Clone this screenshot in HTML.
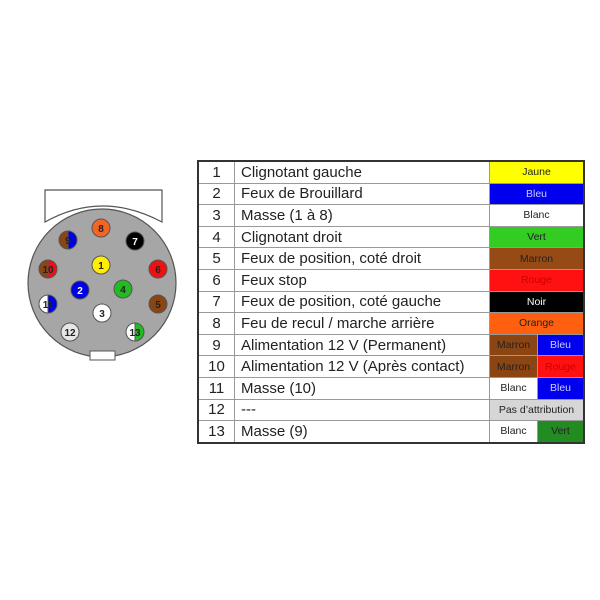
<!DOCTYPE html>
<html><head><meta charset="utf-8"><style>
body{margin:0;width:600px;height:600px;background:#fff;overflow:hidden;font-family:"Liberation Sans",sans-serif;}
table{position:absolute;left:197px;top:160px;border-collapse:collapse;width:388px;border:2px solid #333;}
td{border:1px solid #999;height:20.6px;padding:0;font-size:15px;color:#222;white-space:nowrap;}
td.n{width:35px;text-align:center;}
td.t{padding-left:6px;width:248px;}
td.c{font-size:10.5px;text-align:center;}
</style></head><body>
<svg width="200" height="380" style="position:absolute;left:0;top:0">
<path d="M45 190 H162 V222 Q102 190 45 222 Z" fill="#fff" stroke="#555" stroke-width="1.2"/>
<circle cx="102" cy="283" r="74" fill="#a6a6a6" stroke="#555" stroke-width="1.2"/>
<rect x="90" y="351" width="25" height="9" fill="#fff" stroke="#555"/>
<defs>
<clipPath id="l"><rect x="0" y="0" width="0" height="0"/></clipPath>
</defs>
<g stroke="#555" stroke-width="1" font-family="Liberation Sans" font-size="10" font-weight="bold" text-anchor="middle">
<circle cx="101" cy="228" r="9" fill="#f26522"/><text x="101" y="232" stroke="none" fill="#222">8</text>
<path d="M68 231 A9 9 0 0 0 68 249 Z" fill="#8b4513"/><path d="M68 231 A9 9 0 0 1 68 249 Z" fill="#0000e0"/><text x="68" y="244" stroke="none" fill="#222">9</text>
<circle cx="135" cy="241" r="9" fill="#000"/><text x="135" y="245" stroke="none" fill="#fff">7</text>
<circle cx="101" cy="265" r="9" fill="#ffee00"/><text x="101" y="269" stroke="none" fill="#222">1</text>
<path d="M48 260 A9 9 0 0 0 48 278 Z" fill="#8b4513"/><path d="M48 260 A9 9 0 0 1 48 278 Z" fill="#ee1111"/><text x="48" y="273" stroke="none" fill="#222">10</text>
<circle cx="158" cy="269" r="9" fill="#ee1111"/><text x="158" y="273" stroke="none" fill="#222">6</text>
<circle cx="80" cy="290" r="9" fill="#0000e0"/><text x="80" y="294" stroke="none" fill="#fff">2</text>
<circle cx="123" cy="289" r="9" fill="#22bb22"/><text x="123" y="293" stroke="none" fill="#222">4</text>
<path d="M48 295 A9 9 0 0 0 48 313 Z" fill="#fff"/><path d="M48 295 A9 9 0 0 1 48 313 Z" fill="#0000e0"/><text x="48" y="308" stroke="none" fill="#222">11</text>
<circle cx="158" cy="304" r="9" fill="#8b4513"/><text x="158" y="308" stroke="none" fill="#222">5</text>
<circle cx="102" cy="313" r="9" fill="#fff"/><text x="102" y="317" stroke="none" fill="#222">3</text>
<circle cx="70" cy="332" r="9" fill="#e6e6e6"/><text x="70" y="336" stroke="none" fill="#222">12</text>
<path d="M135 323 A9 9 0 0 0 135 341 Z" fill="#fff"/><path d="M135 323 A9 9 0 0 1 135 341 Z" fill="#22bb22"/><text x="135" y="336" stroke="none" fill="#222">13</text>
</g></svg>
<table>
<tr><td class="n">1</td><td class="t">Clignotant gauche</td><td class="c" colspan="2" style="background:#ffff00">Jaune</td></tr>
<tr><td class="n">2</td><td class="t">Feux de Brouillard</td><td class="c" colspan="2" style="background:#0000ee;color:#ccf">Bleu</td></tr>
<tr><td class="n">3</td><td class="t">Masse (1 à 8)</td><td class="c" colspan="2" style="background:#fff">Blanc</td></tr>
<tr><td class="n">4</td><td class="t">Clignotant droit</td><td class="c" colspan="2" style="background:#33cc22">Vert</td></tr>
<tr><td class="n">5</td><td class="t">Feux de position, coté droit</td><td class="c" colspan="2" style="background:#964b16">Marron</td></tr>
<tr><td class="n">6</td><td class="t">Feux stop</td><td class="c" colspan="2" style="background:#ff1111;color:#c00">Rouge</td></tr>
<tr><td class="n">7</td><td class="t">Feux de position, coté gauche</td><td class="c" colspan="2" style="background:#000;color:#fff">Noir</td></tr>
<tr><td class="n">8</td><td class="t">Feu de recul / marche arrière</td><td class="c" colspan="2" style="background:#ff6010">Orange</td></tr>
<tr><td class="n">9</td><td class="t">Alimentation 12 V (Permanent)</td><td class="c" style="background:#8b4513;width:47px">Marron</td><td class="c" style="background:#0000ee;color:#ccf">Bleu</td></tr>
<tr><td class="n">10</td><td class="t">Alimentation 12 V (Après contact)</td><td class="c" style="background:#8b4513">Marron</td><td class="c" style="background:#ff1111;color:#c00">Rouge</td></tr>
<tr><td class="n">11</td><td class="t">Masse (10)</td><td class="c" style="background:#fff">Blanc</td><td class="c" style="background:#0000ee;color:#ccf">Bleu</td></tr>
<tr><td class="n">12</td><td class="t">---</td><td class="c" colspan="2" style="background:#d6d6d6">Pas d’attribution</td></tr>
<tr><td class="n">13</td><td class="t">Masse (9)</td><td class="c" style="background:#fff">Blanc</td><td class="c" style="background:#228b22">Vert</td></tr>
</table>
</body></html>
